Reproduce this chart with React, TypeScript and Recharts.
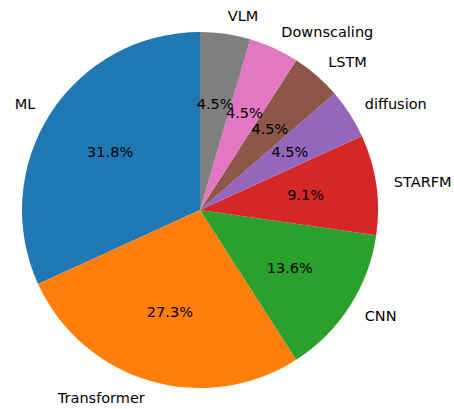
import { PieChart, Pie, Cell } from "recharts";

const categories = ["ML", "Transformer", "CNN", "STARFM", "diffusion", "LSTM", "Downscaling", "VLM"];
const counts = [7, 6, 3, 2, 1, 1, 1, 1];
const colors = ["#1f77b4", "#ff7f0e", "#2ca02c", "#d62728", "#9467bd", "#8c564b", "#e377c2", "#7f7f7f"];

const data = categories.map((name, i) => ({ name, value: counts[i] }));
const RAD = Math.PI / 180;
const font = "DejaVu Sans, sans-serif";

function renderLabel(props: any) {
  const { cx, cy, midAngle, outerRadius, percent, name } = props;
  const cos = Math.cos(-midAngle * RAD);
  const sin = Math.sin(-midAngle * RAD);
  const lx = cx + outerRadius * 1.1 * cos;
  const ly = cy + outerRadius * 1.1 * sin;
  const px = cx + outerRadius * 0.6 * cos;
  const py = cy + outerRadius * 0.6 * sin;
  return (
    <g>
      <text x={lx} y={ly} textAnchor={cos >= 0 ? "start" : "end"} dominantBaseline="central" fontSize={14.5} fontFamily={font} fill="#000">
        {name}
      </text>
      <text x={px} y={py} textAnchor="middle" dominantBaseline="central" fontSize={14.5} fontFamily={font} fill="#000">
        {(percent * 100).toFixed(1)}%
      </text>
    </g>
  );
}

export default function App() {
  return (
    <div style={{ position: "absolute", left: 0, top: 0, width: 454, height: 409, background: "#fff" }}>
      <PieChart width={454} height={409} margin={{ top: 0, right: 0, bottom: 0, left: 0 }}>
        <Pie
          data={data}
          dataKey="value"
          nameKey="name"
          cx={200}
          cy={210}
          outerRadius={178}
          startAngle={90}
          endAngle={450}
          stroke="none"
          label={renderLabel}
          labelLine={false}
          isAnimationActive={false}
        >
          {data.map((d, i) => (
            <Cell key={d.name} fill={colors[i]} />
          ))}
        </Pie>
      </PieChart>
    </div>
  );
}
